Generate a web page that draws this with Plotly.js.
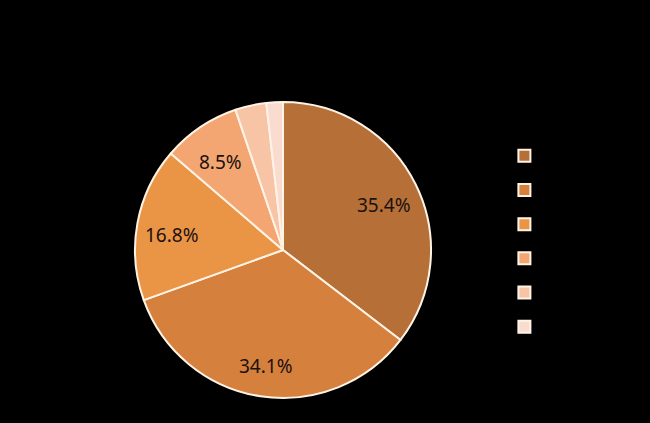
<!DOCTYPE html>
<html>
<head>
<meta charset="utf-8">
<script src="https://cdn.plot.ly/plotly-3.0.1.min.js"></script>
<style>html,body{margin:0;padding:0;background:#000;}#chart{width:650px;height:423px;}</style>
</head>
<body>
<div id="chart"></div>
<script>
const categories = ["类别一", "类别二", "类别三", "类别四", "类别五", "类别六"];
const values = [35.4, 34.1, 16.8, 8.5, 3.4, 1.8];
const colors = ["#B66F36", "#D6803E", "#EA9446", "#F4A672", "#F7C4A5", "#FADBD0"];

const W = 650, H = 423;
const dom = { x: [0.2077, 0.6631], y: [0.0591, 0.7589] };

const trace = {
  type: "pie",
  labels: categories,
  values: values,
  textinfo: "none",
  sort: false,
  direction: "clockwise",
  rotation: 0,
  marker: { colors: colors, line: { color: "#FFF3E6", width: 2 } },
  domain: dom,
  hoverinfo: "none"
};

// data labels placed along each slice's mid-angle (computed from the values)
const total = values.reduce((a, b) => a + b, 0);
const cx = (dom.x[0] + dom.x[1]) / 2 * W;
const cy = (1 - (dom.y[0] + dom.y[1]) / 2) * H;
const R = Math.min((dom.x[1] - dom.x[0]) * W, (dom.y[1] - dom.y[0]) * H) / 2;
const annotations = [];
let cum = 0;
values.forEach((v, i) => {
  const mid = (cum + v / 2) / total * 2 * Math.PI;
  cum += v;
  if (v / total < 0.05) return;
  const rf = 0.76;
  const px = cx + rf * R * Math.sin(mid);
  const py = cy - rf * R * Math.cos(mid);
  annotations.push({
    x: px / W, y: 1 - py / H, xref: "paper", yref: "paper",
    text: (v / total * 100).toFixed(1) + "%", showarrow: false,
    xanchor: "center", yanchor: "middle", yshift: -5,
    font: { family: "Liberation Sans Narrow, Noto Sans, sans-serif", size: 19, color: "#1a120e" }
  });
});

const layout = {
  width: W, height: H,
  paper_bgcolor: "#000", plot_bgcolor: "#000",
  margin: { l: 0, r: 0, t: 0, b: 0 },
  showlegend: true,
  annotations: annotations,
  legend: {
    x: 0.776, y: 0.684, xanchor: "left", yanchor: "top",
    font: { family: "Noto Sans CJK SC, sans-serif", size: 24, color: "#000" },
    bgcolor: "rgba(0,0,0,0)"
  }
};

Plotly.newPlot("chart", [trace], layout, { displayModeBar: false, staticPlot: true });
</script>
</body>
</html>
